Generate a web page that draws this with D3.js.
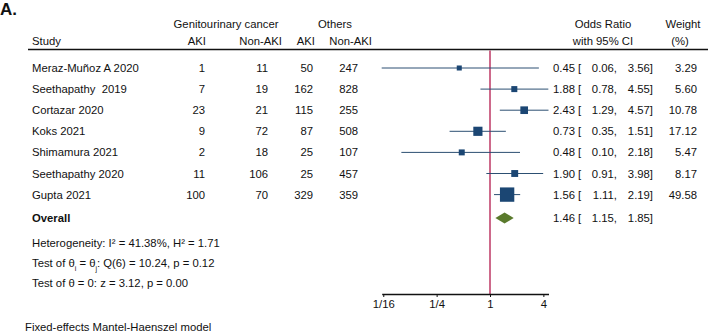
<!DOCTYPE html>
<html>
<head>
<meta charset="utf-8">
<script src="https://cdn.jsdelivr.net/npm/d3@7"></script>
<style>
  body { margin: 0; background: #fff; }
  svg text { font-family: "Liberation Sans", Arial, Helvetica, sans-serif; font-size: 11.3px; fill: #111; white-space: pre; }
</style>
</head>
<body>
<svg id="forest"></svg>
<script>
// Data
const studies = ['Meraz-Muñoz A 2020', 'Seethapathy  2019', 'Cortazar 2020', 'Koks 2021',
    'Shimamura 2021', 'Seethapathy 2020', 'Gupta 2021'];
const guAKI = [1, 7, 23, 9, 2, 11, 100];
const guNonAKI = [11, 19, 21, 72, 18, 106, 70];
const othAKI = [50, 162, 115, 87, 25, 25, 329];
const othNonAKI = [247, 828, 255, 508, 107, 457, 359];
const oddsRatio = [0.45, 1.88, 2.43, 0.73, 0.48, 1.90, 1.56];
const ciLow = [0.06, 0.78, 1.29, 0.35, 0.10, 0.91, 1.11];
const ciHigh = [3.56, 4.55, 4.57, 1.51, 2.18, 3.98, 2.19];
const weights = [3.29, 5.60, 10.78, 17.12, 5.47, 8.17, 49.58];
const overall = { or: 1.46, lo: 1.15, hi: 1.85 };
const tickValues = [1 / 16, 1 / 4, 1, 4];
const tickLabels = ['1/16', '1/4', '1', '4'];

const config = {
    width: 708,
    height: 333,
    rowTop: 68,
    rowStep: 21.1,
    overallY: 218,
    axisY: 294,
    ruleY: 49.5
};

const svg = d3.select('#forest')
    .attr('width', config.width)
    .attr('height', config.height);

// x scale: log base 2 over the range of the confidence limits
const x = d3.scaleLog().base(2)
    .domain([d3.min(ciLow), d3.max(ciHigh)])
    .range([381.7, 548.5]);

const y = i => config.rowTop + i * config.rowStep;

// marker side grows with sqrt(weight)
const side = d3.scaleLinear().domain([0, Math.sqrt(50)]).range([1.8, 14.4]);

const fmt = d3.format('.2f');

// helper for text
function txt(g, xPos, yPos, s, anchor, weight) {
    return g.append('text')
        .attr('x', xPos)
        .attr('y', yPos)
        .attr('text-anchor', anchor || 'start')
        .attr('font-weight', weight || null)
        .text(s);
}

const header = svg.append('g').attr('class', 'header');
header.append('text')
    .attr('x', 0).attr('y', 15)
    .style('font-size', '17px')
    .attr('font-weight', 'bold')
    .text('A.');

txt(header, 226, 28, 'Genitourinary cancer', 'middle');
txt(header, 335, 28, 'Others', 'middle');
txt(header, 603, 28, 'Odds Ratio', 'middle');
txt(header, 683, 28, 'Weight', 'middle');
txt(header, 32, 45, 'Study');
txt(header, 206, 45, 'AKI', 'end');
txt(header, 282, 45, 'Non-AKI', 'end');
txt(header, 315, 45, 'AKI', 'end');
txt(header, 372, 45, 'Non-AKI', 'end');
txt(header, 603, 45, 'with 95% CI', 'middle');
txt(header, 680, 45, '(%)', 'middle');

svg.append('line')
    .attr('x1', 28).attr('x2', 708)
    .attr('y1', config.ruleY).attr('y2', config.ruleY)
    .attr('stroke', '#111').attr('stroke-width', 1.3);

// reference line at OR = 1
svg.append('line')
    .attr('x1', x(1)).attr('x2', x(1))
    .attr('y1', config.ruleY + 1).attr('y2', config.axisY)
    .attr('stroke', '#b31a4d').attr('stroke-width', 1.3);

// study rows
const rows = svg.append('g').attr('class', 'rows');
studies.forEach((s, i) => {
    const yy = y(i) + 4;
    txt(rows, 32, yy, s);
    txt(rows, 205, yy, guAKI[i], 'end');
    txt(rows, 268, yy, guNonAKI[i], 'end');
    txt(rows, 313, yy, othAKI[i], 'end');
    txt(rows, 358, yy, othNonAKI[i], 'end');
    txt(rows, 575, yy, fmt(oddsRatio[i]), 'end');
    txt(rows, 578, yy, '[');
    txt(rows, 617, yy, fmt(ciLow[i]) + ',', 'end');
    txt(rows, 653, yy, fmt(ciHigh[i]) + ']', 'end');
    txt(rows, 697, yy, fmt(weights[i]), 'end');
});

// CI lines and weight squares
const marks = svg.append('g').attr('class', 'marks');
marks.selectAll('.ci')
    .data(studies)
    .enter()
    .append('line')
    .attr('class', 'ci')
    .attr('x1', (d, i) => x(ciLow[i]))
    .attr('x2', (d, i) => x(ciHigh[i]))
    .attr('y1', (d, i) => y(i))
    .attr('y2', (d, i) => y(i))
    .attr('stroke', '#2c4f72')
    .attr('stroke-width', 1);

marks.selectAll('.sq')
    .data(studies)
    .enter()
    .append('rect')
    .attr('class', 'sq')
    .attr('x', (d, i) => x(oddsRatio[i]) - side(Math.sqrt(weights[i])) / 2)
    .attr('y', (d, i) => y(i) - side(Math.sqrt(weights[i])) / 2)
    .attr('width', (d, i) => side(Math.sqrt(weights[i])))
    .attr('height', (d, i) => side(Math.sqrt(weights[i])))
    .attr('fill', '#1b4673');

// overall diamond
const oy = config.overallY;
marks.append('path')
    .attr('d', `M${x(overall.lo)},${oy} L${x(overall.or)},${oy - 5.5} L${x(overall.hi)},${oy} L${x(overall.or)},${oy + 5.5} Z`)
    .attr('fill', '#5a7a2c');

txt(rows, 32, oy + 4, 'Overall', 'start', 'bold');
txt(rows, 575, oy + 4, fmt(overall.or), 'end');
txt(rows, 578, oy + 4, '[');
txt(rows, 617, oy + 4, fmt(overall.lo) + ',', 'end');
txt(rows, 653, oy + 4, fmt(overall.hi) + ']', 'end');

// statistics
txt(rows, 32, 247, 'Heterogeneity: I² = 41.38%, H² = 1.71');
const t2 = rows.append('text').attr('x', 32).attr('y', 267);
t2.append('tspan').text('Test of θ');
t2.append('tspan').attr('baseline-shift', 'sub').style('font-size', '7px').text('i');
t2.append('tspan').text(' = θ');
t2.append('tspan').attr('baseline-shift', 'sub').style('font-size', '7px').text('j');
t2.append('tspan').text(': Q(6) = 10.24, p = 0.12');
txt(rows, 32, 287, 'Test of θ = 0: z = 3.12, p = 0.00');

txt(rows, 25, 331, 'Fixed-effects Mantel-Haenszel model');

// axis
const axis = d3.axisBottom(x)
    .tickValues(tickValues)
    .tickFormat((d, i) => tickLabels[i])
    .tickSize(3)
    .tickSizeOuter(0);

const axisG = svg.append('g')
    .attr('transform', `translate(0,${config.axisY})`)
    .call(axis);
axisG.select('.domain').attr('stroke', '#111').attr('stroke-width', 1.3);
axisG.selectAll('.tick line').attr('stroke', '#111');
axisG.selectAll('.tick text')
    .attr('y', 6)
    .attr('dy', '0.71em')
    .style('font-size', '11.3px')
    .style('font-family', '"Liberation Sans", Arial, sans-serif')
    .attr('fill', '#111');
</script>
</body>
</html>
